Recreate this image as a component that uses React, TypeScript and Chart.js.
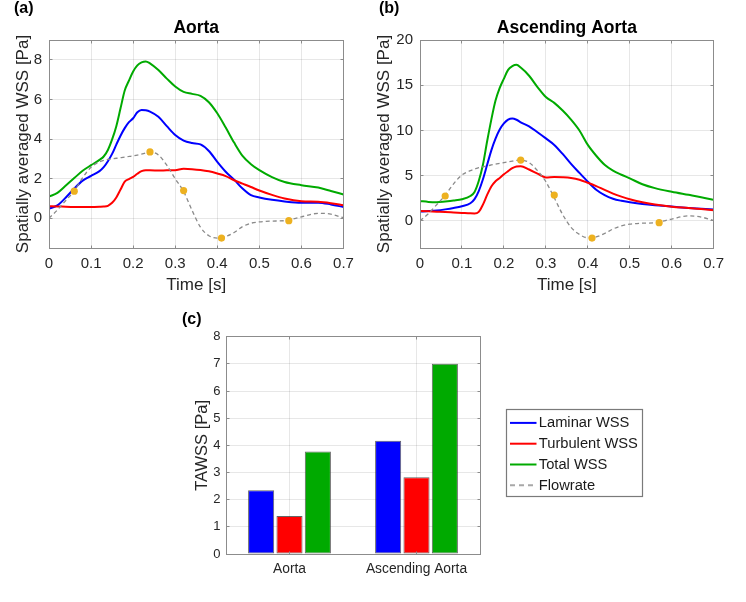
import React, { useEffect, useRef } from 'react';
import { Chart, registerables } from 'chart.js';

Chart.register(...registerables);

const FONT = "'Liberation Sans', Arial, Helvetica, sans-serif";
const TEXT_COLOR = '#262626';
const GRID_COLOR = 'rgba(38,38,38,0.11)';
const BOX_COLOR = '#8c8c8c';
const BLUE = '#0000ff';
const RED = '#ff0000';
const GREEN = '#00aa00';
const FLOW_GRAY = '#8a8a8a';
const DOT_ORANGE = '#edb120';

// ---------- time axis ----------
const time = [0, 0.02, 0.04, 0.06, 0.08, 0.1, 0.12, 0.13, 0.14, 0.15, 0.16, 0.17, 0.18, 0.19, 0.2, 0.21, 0.22, 0.23, 0.24, 0.26, 0.28, 0.3, 0.32, 0.34, 0.36, 0.38, 0.4, 0.42, 0.44, 0.46, 0.48, 0.5, 0.53, 0.56, 0.6, 0.64, 0.67, 0.7];
const timeTicks = [0, 0.1, 0.2, 0.3, 0.4, 0.5, 0.6, 0.7];
const timeTickLabels = ['0', '0.1', '0.2', '0.3', '0.4', '0.5', '0.6', '0.7'];

// ---------- (a) Aorta ----------
const aortaLaminar = [0.49, 0.65, 1.05, 1.5, 1.9, 2.14, 2.38, 2.58, 2.88, 3.25, 3.72, 4.17, 4.55, 4.85, 5.05, 5.35, 5.47, 5.45, 5.38, 5.12, 4.65, 4.2, 3.92, 3.8, 3.73, 3.4, 2.85, 2.35, 1.95, 1.5, 1.17, 1.05, 0.93, 0.85, 0.79, 0.79, 0.7, 0.57];
const aortaTurbulent = [0.61, 0.6, 0.58, 0.57, 0.57, 0.57, 0.58, 0.59, 0.63, 0.78, 1.05, 1.45, 1.85, 1.98, 2.09, 2.25, 2.38, 2.43, 2.42, 2.41, 2.42, 2.43, 2.5, 2.48, 2.44, 2.37, 2.26, 2.13, 1.92, 1.75, 1.58, 1.4, 1.18, 1.0, 0.86, 0.83, 0.76, 0.66];
const aortaTotal = [1.1, 1.28, 1.65, 2.03, 2.4, 2.68, 2.95, 3.12, 3.45, 3.98, 4.65, 5.55, 6.45, 6.95, 7.41, 7.72, 7.87, 7.92, 7.82, 7.48, 7.05, 6.65, 6.38, 6.28, 6.18, 5.86, 5.3, 4.58, 3.82, 3.15, 2.73, 2.43, 2.08, 1.83, 1.67, 1.55, 1.38, 1.2];
const aortaFlow = [0, 0.42, 0.9, 1.38, 2.05, 2.58, 2.85, 2.92, 2.97, 3.0, 3.03, 3.06, 3.09, 3.12, 3.15, 3.19, 3.24, 3.3, 3.34, 3.2, 2.68, 2.0, 1.35, 0.4, -0.45, -0.88, -1.0, -0.92, -0.72, -0.42, -0.25, -0.18, -0.14, -0.12, 0.07, 0.25, 0.21, 0.02];
const aortaYTicks = [0, 2, 4, 6, 8];

// ---------- (b) Ascending Aorta ----------
const ascLaminar = [1.03, 1.08, 1.15, 1.27, 1.42, 1.62, 1.95, 2.4, 3.3, 4.6, 6.2, 7.8, 9.1, 10.1, 10.77, 11.2, 11.32, 11.18, 10.9, 10.45, 9.8, 9.12, 8.4, 7.4, 6.3, 5.3, 4.33, 3.45, 2.85, 2.45, 2.22, 2.06, 1.86, 1.72, 1.58, 1.43, 1.34, 1.25];
const ascTurbulent = [1.1, 1.06, 1.02, 0.98, 0.93, 0.88, 0.83, 0.82, 1.0, 1.8, 2.87, 3.8, 4.38, 4.75, 5.15, 5.5, 5.83, 6.02, 6.05, 5.68, 5.22, 4.8, 4.85, 4.82, 4.74, 4.55, 4.22, 3.85, 3.42, 3.02, 2.68, 2.39, 2.06, 1.8, 1.57, 1.42, 1.3, 1.18];
const ascTotal = [2.2, 2.1, 2.07, 2.15, 2.25, 2.39, 2.75, 3.2, 4.4, 6.2, 8.8, 11.2, 13.3, 14.7, 15.73, 16.7, 17.1, 17.25, 16.95, 16.05, 14.8, 13.7, 13.05, 12.2, 11.2, 10.0, 8.4, 7.2, 6.2, 5.55, 5.1, 4.7, 4.05, 3.62, 3.22, 2.88, 2.62, 2.32];
const ascFlow = [0, 0.8, 1.8, 2.82, 4.1, 5.07, 5.55, 5.72, 5.88, 5.98, 6.08, 6.18, 6.28, 6.36, 6.44, 6.52, 6.6, 6.68, 6.72, 6.45, 5.55, 4.33, 2.55, 0.7, -0.72, -1.5, -1.87, -1.78, -1.4, -0.9, -0.55, -0.37, -0.26, -0.2, 0.2, 0.55, 0.42, 0.04];
const ascYTicks = [0, 5, 10, 15, 20];

// ---------- flow-rate markers ----------
const flowDotTimes = [0.06, 0.24, 0.32, 0.41, 0.57];
const aortaFlowDots = [1.37, 3.35, 1.4, -1.0, -0.12];
const ascFlowDots = [2.75, 6.72, 2.85, -1.9, -0.2];

// ---------- (c) TAWSS ----------
const barCategories = ['Aorta', 'Ascending Aorta'];
const tawssLaminar = [2.35, 4.17];
const tawssTurbulent = [1.4, 2.83];
const tawssTotal = [3.77, 7.0];
const tawssYTicks = [0, 1, 2, 3, 4, 5, 6, 7, 8];

const pts = (xs: number[], ys: number[]) => xs.map((x, i) => ({ x, y: ys[i] }));
const crisp = (v: number) => Math.floor(v) + 0.5;

const boxPlugin = {
  id: 'matlabBox',
  afterDatasetsDraw(chart: any) {
    const { ctx, chartArea: a, scales } = chart;
    const L = crisp(a.left), R = crisp(a.right), T = crisp(a.top), B = crisp(a.bottom);
    ctx.save();
    ctx.strokeStyle = BOX_COLOR;
    ctx.lineWidth = 1;
    ctx.beginPath();
    const len = 3;
    const xs = scales.x;
    xs.ticks.forEach((_t: any, i: number) => {
      const p = xs.getPixelForTick(i);
      if (p <= a.left + 1 || p >= a.right - 1) return;
      const c = crisp(p);
      ctx.moveTo(c, B); ctx.lineTo(c, B - len);
      ctx.moveTo(c, T); ctx.lineTo(c, T + len);
    });
    const ys = scales.y;
    ys.ticks.forEach((_t: any, i: number) => {
      const p = ys.getPixelForTick(i);
      if (p <= a.top + 1 || p >= a.bottom - 1) return;
      const c = crisp(p);
      ctx.moveTo(L, c); ctx.lineTo(L + len, c);
      ctx.moveTo(R, c); ctx.lineTo(R - len, c);
    });
    ctx.stroke();
    ctx.strokeRect(L, T, R - L, B - T);
    ctx.restore();
  },
};

const legendPlugin = {
  id: 'boxedLegend',
  afterDraw(chart: any) {
    const { ctx, chartArea: a } = chart;
    const fontSize = 14.7;
    ctx.save();
    ctx.font = `${fontSize}px ${FONT}`;
    const items = chart.data.datasets.map((ds: any) => ({
      text: ds.label,
      color: ds.type === 'line' ? ds.borderColor : ds.backgroundColor,
      dash: ds.type === 'line' ? [5, 4] : [],
    }));
    const maxText = Math.max(...items.map((it: any) => ctx.measureText(it.text).width));
    const left = crisp(a.right + 26);
    const top = crisp(a.top + 72.6);
    const rowStep = 20.8;
    const width = Math.round(32.5 + maxText + 4.5);
    const height = 87;
    ctx.fillStyle = '#ffffff';
    ctx.fillRect(left, top, width, height);
    ctx.strokeStyle = '#7a7a7a';
    ctx.lineWidth = 1.2;
    ctx.strokeRect(left, top, width, height);
    items.forEach((it: any, i: number) => {
      const y = top + 13.4 + i * rowStep;
      ctx.beginPath();
      ctx.setLineDash(it.dash);
      ctx.strokeStyle = it.color;
      ctx.lineWidth = 2;
      ctx.moveTo(left + 3.5, y);
      ctx.lineTo(left + 30, y);
      ctx.stroke();
      ctx.setLineDash([]);
      ctx.fillStyle = '#1a1a1a';
      ctx.textBaseline = 'middle';
      ctx.textAlign = 'left';
      ctx.fillText(it.text, left + 32.3, y + 0.5);
    });
    ctx.restore();
  },
};

function fixedTicks(values: number[]) {
  return (scale: any) => {
    scale.ticks = values.map((v) => ({ value: v }));
  };
}

function lineConfig(opts: {
  title: string;
  yTicks: number[];
  yMin: number;
  yMax: number;
  laminar: number[];
  turbulent: number[];
  total: number[];
  flow: number[];
  dots: number[];
  yWidth: number;
  padRight: number;
  yTitlePad: number;
}): any {
  const lineCommon = { pointRadius: 0, borderWidth: 2, cubicInterpolationMode: 'monotone', fill: false };
  return {
    type: 'line',
    data: {
      datasets: [
        { label: 'Flowrate samples', data: pts(flowDotTimes, opts.dots), showLine: false, pointRadius: 3.6, pointHoverRadius: 3.6, pointBackgroundColor: DOT_ORANGE, pointBorderColor: DOT_ORANGE, pointBorderWidth: 0, order: 0 },
        { label: 'Flowrate', data: pts(time, opts.flow), ...lineCommon, borderColor: FLOW_GRAY, borderWidth: 1.3, borderDash: [4, 3], order: 1 },
        { label: 'Turbulent WSS', data: pts(time, opts.turbulent), ...lineCommon, borderColor: RED, order: 2 },
        { label: 'Laminar WSS', data: pts(time, opts.laminar), ...lineCommon, borderColor: BLUE, order: 3 },
        { label: 'Total WSS', data: pts(time, opts.total), ...lineCommon, borderColor: GREEN, order: 4 },
      ],
    },
    options: {
      animation: false,
      responsive: false,
      events: [],
      layout: { padding: { left: 0, right: opts.padRight, top: 0, bottom: 0 } },
      plugins: {
        legend: { display: false },
        tooltip: { enabled: false },
        title: {
          display: true,
          text: opts.title,
          fullSize: false,
          color: '#000',
          font: { family: FONT, size: 17.5, weight: 'bold' },
          padding: { top: 17.5, bottom: 1.5 },
        },
      },
      scales: {
        x: {
          type: 'linear',
          min: 0,
          max: 0.7,
          afterBuildTicks: fixedTicks(timeTicks),
          afterFit: (s: any) => { s.height = 52; },
          border: { display: false },
          grid: { color: GRID_COLOR, drawTicks: false },
          ticks: {
            padding: 7,
            color: TEXT_COLOR,
            font: { family: FONT, size: 15 },
            maxRotation: 0,
            autoSkip: false,
            callback: (_v: any, i: number) => timeTickLabels[i],
          },
          title: { display: true, text: 'Time [s]', color: TEXT_COLOR, font: { family: FONT, size: 17 }, padding: { top: 0, bottom: 4 } },
        },
        y: {
          type: 'linear',
          min: opts.yMin,
          max: opts.yMax,
          afterBuildTicks: fixedTicks(opts.yTicks),
          afterFit: (s: any) => { s.width = opts.yWidth; },
          border: { display: false },
          grid: { color: GRID_COLOR, drawTicks: false },
          ticks: { padding: 7, color: TEXT_COLOR, font: { family: FONT, size: 15 }, autoSkip: false },
          title: { display: true, text: 'Spatially averaged WSS [Pa]', color: TEXT_COLOR, font: { family: FONT, size: 17 }, padding: { top: opts.yTitlePad, bottom: 0 } },
        },
      },
    },
    plugins: [boxPlugin],
  };
}

function barConfig(): any {
  const barCommon = { borderWidth: 1, borderColor: 'rgba(50,50,50,0.75)', borderSkipped: false, categoryPercentage: 0.67, barPercentage: 0.92 };
  return {
    type: 'bar',
    data: {
      labels: barCategories,
      datasets: [
        { label: 'Laminar WSS', data: tawssLaminar, backgroundColor: BLUE, ...barCommon },
        { label: 'Turbulent WSS', data: tawssTurbulent, backgroundColor: RED, ...barCommon },
        { label: 'Total WSS', data: tawssTotal, backgroundColor: GREEN, ...barCommon },
        { type: 'line', label: 'Flowrate', data: [], borderColor: '#a8a8a8', borderDash: [5, 4], borderWidth: 1.5, pointRadius: 0 },
      ],
    },
    options: {
      animation: false,
      responsive: false,
      events: [],
      layout: { padding: { left: 0, right: 266, top: 36.7, bottom: 0 } },
      plugins: { legend: { display: false }, tooltip: { enabled: false }, title: { display: false } },
      scales: {
        x: {
          type: 'category',
          offset: true,
          afterFit: (s: any) => { s.height = 48; },
          border: { display: false },
          grid: { color: GRID_COLOR, drawTicks: false, offset: false },
          ticks: { padding: 7, color: TEXT_COLOR, font: { family: FONT, size: 13.8 }, maxRotation: 0, autoSkip: false },
        },
        y: {
          type: 'linear',
          min: 0,
          max: 8,
          afterBuildTicks: fixedTicks(tawssYTicks),
          afterFit: (s: any) => { s.width = 46; },
          border: { display: false },
          grid: { color: GRID_COLOR, drawTicks: false },
          ticks: { padding: 5.5, color: TEXT_COLOR, font: { family: FONT, size: 13 }, autoSkip: false },
          title: { display: true, text: 'TAWSS [Pa]', color: TEXT_COLOR, font: { family: FONT, size: 16.5 }, padding: { top: 12.6, bottom: 0 } },
        },
      },
    },
    plugins: [boxPlugin, legendPlugin],
  };
}

function ChartCanvas({ config, left, top, width, height }: { config: () => any; left: number; top: number; width: number; height: number }) {
  const ref = useRef<HTMLCanvasElement | null>(null);
  useEffect(() => {
    if (!ref.current) return;
    const chart = new Chart(ref.current, config());
    return () => chart.destroy();
  }, []);
  return (
    <canvas
      ref={ref}
      width={width}
      height={height}
      style={{ position: 'absolute', left, top, width, height, display: 'block' }}
    />
  );
}

const panelLabel = (text: string, left: number, top: number) => (
  <div style={{ position: 'absolute', left, top, font: `bold 16px ${FONT}`, lineHeight: '16px', color: '#000' }}>{text}</div>
);

export default function App() {
  return (
    <div style={{ position: 'absolute', left: 0, top: 0, width: 746, height: 602, background: '#fff', overflow: 'hidden' }}>
      <ChartCanvas
        left={0}
        top={0}
        width={373}
        height={300}
        config={() =>
          lineConfig({
            title: 'Aorta', yTicks: aortaYTicks, yMin: -1.5, yMax: 9,
            laminar: aortaLaminar, turbulent: aortaTurbulent, total: aortaTotal, flow: aortaFlow, dots: aortaFlowDots,
            yWidth: 49, padRight: 29.5, yTitlePad: 13,
          })
        }
      />
      <ChartCanvas
        left={373}
        top={0}
        width={373}
        height={300}
        config={() =>
          lineConfig({
            title: 'Ascending Aorta', yTicks: ascYTicks, yMin: -3, yMax: 20,
            laminar: ascLaminar, turbulent: ascTurbulent, total: ascTotal, flow: ascFlow, dots: ascFlowDots,
            yWidth: 47, padRight: 32.3, yTitlePad: 1.5,
          })
        }
      />
      <ChartCanvas left={180} top={300} width={566} height={302} config={barConfig} />
      {panelLabel('(a)', 14, 0)}
      {panelLabel('(b)', 379, 0)}
      {panelLabel('(c)', 182, 311)}
    </div>
  );
}
